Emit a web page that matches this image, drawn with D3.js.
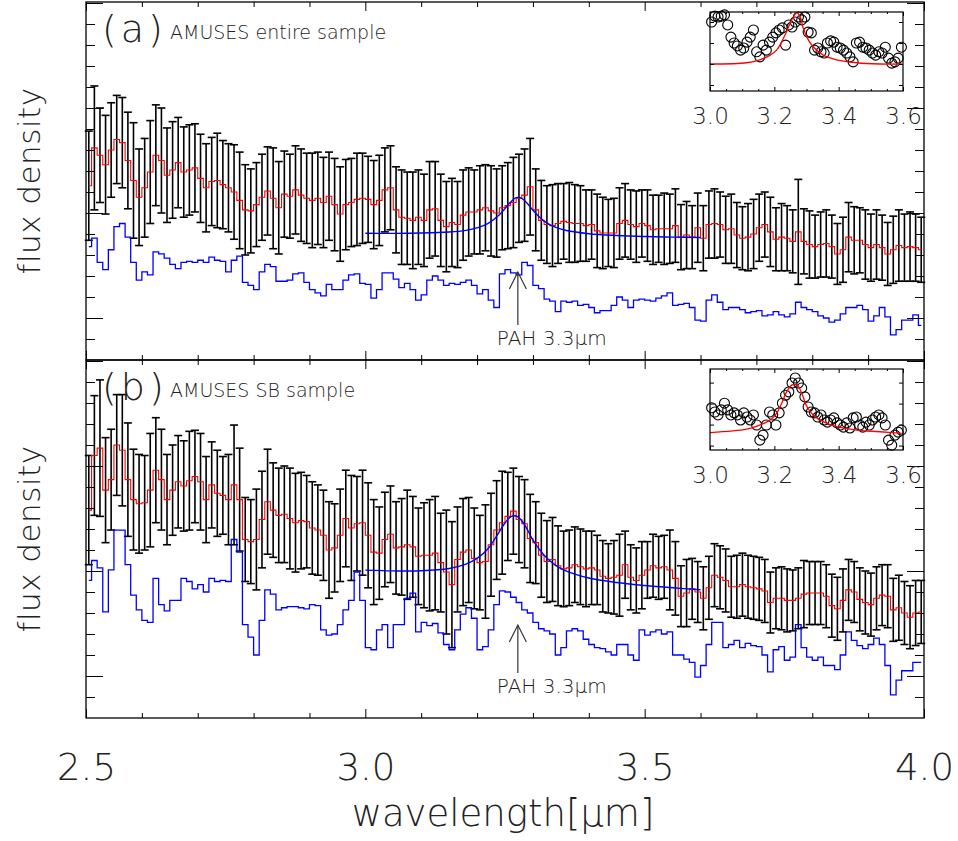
<!DOCTYPE html>
<html>
<head>
<meta charset="utf-8">
<script src="https://cdn.jsdelivr.net/npm/d3@7"></script>
<style>
  body { margin: 0; background: #fff; }
  svg { display: block; }
  text { font-family: "DejaVu Sans ExtraLight", "DejaVu Sans", sans-serif; font-weight: 200; fill: #222; }
</style>
</head>
<body>
<svg id="chart" width="958" height="841"></svg>
<script>
// wavelength grid of the stacked spectra (micron)
const wave = [
  2.505,2.515,2.525,2.535,2.545,2.555,2.565,2.575,2.585,2.595,
  2.605,2.615,2.625,2.635,2.645,2.655,2.665,2.675,2.685,2.695,
  2.705,2.715,2.725,2.735,2.745,2.755,2.765,2.775,2.785,2.795,
  2.805,2.815,2.825,2.835,2.845,2.855,2.865,2.875,2.885,2.895,
  2.905,2.915,2.925,2.935,2.945,2.955,2.965,2.975,2.985,2.995,
  3.005,3.015,3.025,3.035,3.045,3.055,3.065,3.075,3.085,3.095,
  3.105,3.115,3.125,3.135,3.145,3.155,3.165,3.175,3.185,3.195,
  3.205,3.215,3.225,3.235,3.245,3.255,3.265,3.275,3.285,3.295,
  3.305,3.315,3.325,3.335,3.345,3.355,3.365,3.375,3.385,3.395,
  3.405,3.415,3.425,3.435,3.445,3.455,3.465,3.475,3.485,3.495,
  3.505,3.515,3.525,3.535,3.545,3.555,3.565,3.575,3.585,3.595,
  3.605,3.615,3.625,3.635,3.645,3.655,3.665,3.675,3.685,3.695,
  3.705,3.715,3.725,3.735,3.745,3.755,3.765,3.775,3.785,3.795,
  3.805,3.815,3.825,3.835,3.845,3.855,3.865,3.875,3.885,3.895,
  3.905,3.915,3.925,3.935,3.945,3.955,3.965,3.975,3.985,3.995
];

// (a) entire sample: mean (red), error, template (blue)
const meanA = [
  22.6,26.2,25.5,24.6,26.0,27.0,26.7,25.0,23.1,21.5,
  22.4,23.9,25.5,25.0,23.6,24.1,24.8,23.9,24.1,24.3,
  23.3,22.4,23.0,23.1,22.7,22.4,22.0,21.2,20.3,20.2,
  20.8,21.5,22.1,21.4,20.5,21.8,21.6,22.2,21.7,21.4,
  21.2,21.4,21.0,21.6,20.8,19.9,20.8,21.0,21.3,21.4,
  21.3,20.8,21.2,22.2,22.4,20.3,19.6,19.5,19.3,19.6,
  19.3,20.3,20.4,19.3,18.7,19.1,18.9,19.8,20.1,20.1,
  20.3,20.5,20.2,20.0,20.5,20.7,21.0,21.4,21.7,22.5,
  20.3,19.3,18.9,18.8,19.0,19.2,19.1,19.0,19.0,18.8,
  18.9,18.3,18.1,18.1,18.1,19.0,19.3,18.9,18.7,19.0,
  18.8,18.4,18.5,18.5,18.5,18.8,17.7,17.9,17.7,18.6,
  17.6,18.9,19.0,18.9,18.4,18.5,17.9,17.6,17.7,18.0,
  18.6,18.9,18.2,17.5,17.7,17.6,17.3,18.2,17.3,17.0,
  16.8,17.0,17.1,16.8,16.1,16.5,17.7,17.4,17.4,17.0,
  16.7,17.0,16.7,16.1,16.5,16.9,16.7,16.8,16.7,16.5
];
const errA = [
  5.2,5.9,4.5,4.7,4.5,4.2,4.3,4.6,5.5,4.6,
  4.7,4.9,4.8,5.0,4.5,4.6,4.3,4.3,4.3,4.2,
  4.2,4.2,4.2,4.5,4.2,4.2,4.5,4.6,4.3,4.0,
  4.0,4.1,4.2,4.8,4.4,4.1,4.0,4.2,4.4,4.3,
  4.5,4.4,4.3,4.2,4.4,4.5,4.3,4.2,4.4,4.3,
  4.1,4.2,4.3,4.0,4.0,4.1,4.5,4.4,4.6,4.5,
  4.4,4.6,4.5,4.4,4.3,4.2,4.1,4.3,4.2,4.0,
  4.2,4.1,4.3,4.2,4.0,4.1,4.3,4.2,4.4,4.6,
  3.9,3.8,3.7,3.9,3.8,3.6,3.8,3.7,3.6,3.4,
  3.3,3.5,3.4,3.2,3.3,3.4,3.5,3.3,3.4,3.2,
  3.4,3.3,3.2,3.4,3.3,3.5,3.1,3.2,3.0,3.3,
  3.1,3.2,3.3,3.1,3.2,3.3,3.1,3.0,3.2,3.3,
  3.2,3.1,3.3,3.0,3.2,3.1,3.0,5.0,3.1,3.2,
  3.0,3.1,3.2,3.0,2.9,3.1,3.3,3.2,3.1,3.3,
  3.2,3.3,3.1,3.0,3.2,3.4,3.2,3.3,3.2,3.1
];
const blueA = [
  16.8,17.6,15.3,14.6,16.5,18.7,19.0,17.7,15.3,13.6,
  14.4,14.1,16.3,16.1,15.7,15.1,14.7,15.3,15.4,15.3,
  15.5,15.3,15.8,15.5,15.4,14.4,15.5,15.9,13.4,13.1,
  12.7,14.4,15.1,14.9,13.5,13.5,13.6,14.2,14.3,13.4,
  12.7,12.4,12.1,13.2,12.7,12.7,13.6,14.1,14.2,13.3,
  13.2,11.9,12.7,14.3,14.3,13.7,12.9,13.3,12.7,11.7,
  12.2,13.6,14.0,13.6,13.1,13.3,13.2,13.4,13.6,13.1,
  12.3,12.7,11.7,11.0,14.2,14.6,14.3,14.1,15.3,15.0,
  13.1,12.8,11.8,11.6,10.6,11.6,11.5,11.6,11.2,11.3,
  11.0,10.5,10.7,10.7,11.2,12.0,11.7,11.0,11.7,11.8,
  11.7,11.6,11.9,12.1,12.4,11.2,11.3,11.4,11.0,9.8,
  9.7,11.7,12.2,11.5,10.8,11.0,11.0,10.8,10.5,10.6,
  10.7,10.2,10.3,10.6,10.3,10.1,10.4,11.5,11.0,10.8,
  10.6,10.2,10.0,9.6,9.8,10.4,11.0,11.0,11.2,10.8,
  9.7,10.2,11.0,10.1,8.4,8.9,9.8,9.8,10.3,9.3
];

// (b) SB sample
const meanB = [
  25.8,31.0,31.7,27.7,28.7,32.0,31.5,28.7,26.8,26.4,
  26.5,27.7,29.6,28.7,26.8,27.7,28.5,28.1,28.6,29.0,
  28.5,26.8,28.2,27.4,27.2,26.8,28.2,26.8,23.0,22.8,
  23.0,24.9,26.6,25.8,25.3,25.4,25.0,24.6,24.8,24.7,
  24.1,23.9,23.4,22.0,22.2,23.4,25.0,24.1,24.5,24.6,
  23.4,21.8,21.7,23.0,23.5,22.2,22.3,22.5,22.3,21.4,
  21.5,21.5,21.7,20.8,19.9,18.7,21.1,21.8,22.0,21.2,
  20.8,20.9,22.5,23.9,24.6,25.2,25.7,24.9,24.5,23.1,
  22.7,21.5,20.9,21.1,20.5,20.2,20.3,20.6,20.4,20.2,
  20.3,20.1,19.5,19.3,19.4,19.6,20.6,19.4,19.1,19.6,
  20.1,20.5,20.3,20.4,20.1,19.3,17.6,17.9,18.3,18.0,
  17.4,18.4,19.6,19.4,19.1,18.5,18.5,18.7,18.5,18.4,
  18.3,18.1,17.0,17.4,17.4,17.2,17.2,17.4,17.8,17.9,
  17.9,17.9,17.6,16.7,16.4,17.2,18.2,18.0,17.3,17.0,
  16.8,17.4,17.7,17.6,16.3,16.5,16.0,15.6,16.0,16.1
];
const errB = [
  5.2,5.7,6.5,5.0,4.8,4.8,5.3,5.4,4.8,4.7,
  4.5,5.4,5.0,4.8,4.3,4.3,4.4,4.3,4.7,4.4,
  4.6,4.1,4.1,4.1,3.7,4.3,5.7,4.9,4.0,4.0,
  4.8,4.6,5.0,4.5,4.5,4.6,4.8,4.7,4.6,4.4,
  4.4,4.3,4.3,4.6,4.2,4.4,4.6,5.0,4.5,5.0,
  5.0,5.0,4.4,4.5,4.6,4.4,4.6,5.2,4.8,4.6,
  5.0,5.3,5.4,4.7,5.9,6.0,5.0,5.1,5.0,4.8,
  4.5,5.4,4.9,4.7,4.9,4.2,4.1,4.1,4.2,4.2,
  3.9,4.0,3.9,4.0,3.8,3.6,3.6,3.6,3.6,3.6,
  3.5,3.3,3.4,3.3,3.5,3.9,3.2,3.1,3.1,3.2,
  2.7,3.0,3.0,3.0,3.8,3.5,2.9,3.2,2.9,2.9,
  3.0,3.0,3.0,3.0,3.0,2.9,3.0,3.0,3.0,3.0,
  3.0,3.0,2.9,2.9,3.0,3.0,2.9,2.9,3.2,3.0,
  3.0,3.0,3.0,3.0,3.0,3.0,2.9,2.9,3.0,3.0,
  3.0,3.0,2.9,3.0,3.0,3.1,3.0,3.0,3.1,3.0
];
const blueB = [
  19.1,21.0,20.3,16.1,20.1,23.9,23.9,20.6,17.7,16.3,
  15.3,15.1,19.3,16.8,16.2,17.2,17.2,19.3,19.0,18.3,
  18.7,18.0,19.3,19.0,19.1,19.0,23.0,21.8,14.9,13.7,
  12.0,15.3,18.2,17.8,16.3,16.5,16.6,16.6,16.5,16.4,
  16.8,16.7,14.4,13.9,14.0,14.9,16.3,17.2,19.9,17.2,
  12.7,12.5,14.4,14.9,12.7,14.9,14.9,17.4,17.9,14.2,
  15.1,14.8,15.0,14.1,13.0,12.5,14.4,15.9,16.5,15.5,
  12.5,12.8,14.4,16.8,18.1,18.0,17.5,17.0,16.3,16.0,
  15.1,14.5,14.3,14.0,12.0,12.7,14.3,14.5,14.3,13.5,
  13.0,12.7,12.6,12.3,12.0,13.0,13.0,12.0,11.5,14.4,
  13.9,14.2,14.4,14.0,14.2,12.0,12.0,11.6,11.3,9.9,
  11.0,13.0,15.1,15.1,12.7,13.0,13.4,12.7,13.1,12.9,
  12.8,12.0,10.4,12.5,12.8,11.5,11.8,14.9,12.7,11.8,
  11.5,11.8,11.0,11.0,10.6,12.0,14.2,13.4,12.9,12.6,
  13.0,13.6,13.0,11.0,8.2,9.6,10.5,10.5,11.3,11.3
];

// Lorentzian PAH fits
const fitWave = [3.00,3.05,3.10,3.15,3.18,3.20,3.22,3.24,3.25,3.26,3.27,
                 3.28,3.29,3.30,3.32,3.34,3.36,3.40,3.45,3.50,3.55,3.60];
const fitA = [18.07,18.06,18.09,18.19,18.35,18.58,19.02,19.83,20.42,21.05,21.46,
              21.40,20.91,20.26,19.22,18.65,18.33,18.03,17.86,17.76,17.70,17.67];
const fitB = [20.08,20.01,20.02,20.24,20.66,21.20,22.15,23.76,24.57,25.16,25.24,
              24.79,23.95,22.93,21.50,20.56,19.98,19.33,18.90,18.62,18.40,18.21];

// insets: continuum-normalised points around 3.3 micron
const insetWave = [
  3.005,3.015,3.025,3.035,3.045,3.055,3.065,3.075,3.085,3.095,
  3.105,3.115,3.125,3.135,3.145,3.155,3.165,3.175,3.185,3.195,
  3.205,3.215,3.225,3.235,3.245,3.255,3.265,3.275,3.285,3.295,
  3.305,3.315,3.325,3.335,3.345,3.355,3.365,3.375,3.385,3.395,
  3.405,3.415,3.425,3.435,3.445,3.455,3.465,3.475,3.485,3.495,
  3.505,3.515,3.525,3.535,3.545,3.555,3.565,3.575,3.585,3.595
];
const insetA = [
  2.00,2.14,2.12,2.14,2.17,1.93,1.64,1.50,1.43,1.33,
  1.38,1.52,1.64,1.81,1.29,1.17,1.45,1.33,1.52,1.64,
  1.74,1.81,1.86,1.45,1.93,1.88,2.00,2.12,2.05,2.12,
  1.76,1.74,1.33,1.38,1.29,1.26,1.50,1.55,1.52,1.40,
  1.38,1.33,1.26,1.17,1.05,1.50,1.52,1.40,1.38,1.33,
  1.26,1.21,1.29,1.26,1.40,1.14,1.02,1.05,1.14,1.40
];
const insetB = [
  1.40,1.30,1.23,1.35,1.51,1.35,1.23,1.28,1.23,1.11,
  1.28,1.18,1.11,1.23,0.99,0.63,0.75,0.99,1.30,1.23,
  0.99,1.28,1.51,1.70,1.78,1.99,2.11,1.99,1.87,1.66,
  1.42,1.30,1.28,1.18,1.23,1.11,1.06,1.11,1.16,1.04,
  0.99,0.94,1.04,0.92,1.16,1.18,0.99,0.94,1.06,0.99,
  1.11,1.18,1.23,1.16,0.99,0.63,0.51,0.75,0.82,0.87
];
const insetFitWaveA = [3.000,3.114,3.155,3.187,3.207,3.223,3.238,3.254,3.270,3.280,
                       3.290,3.306,3.321,3.352,3.394,3.456,3.528,3.596];
const insetFitA = [1.00,1.03,1.10,1.21,1.33,1.53,1.77,2.05,2.22,2.13,
                   1.85,1.57,1.41,1.21,1.10,1.03,1.00,1.00];
const insetFitWaveB = [3.000,3.114,3.155,3.187,3.207,3.223,3.238,3.254,3.264,3.272,
                       3.285,3.301,3.321,3.352,3.394,3.456,3.528,3.596];
const insetFitB = [0.81,0.89,0.99,1.11,1.27,1.51,1.78,1.94,1.96,1.94,
                   1.75,1.43,1.23,1.07,0.95,0.87,0.83,0.79];

// ticks
const xMajor = [2.5, 3.0, 3.5, 4.0];
const xMinor = [2.6, 2.7, 2.8, 2.9, 3.1, 3.2, 3.3, 3.4, 3.6, 3.7, 3.8, 3.9];
const yMajor = [10, 20, 30, 40];
const yMinor = [8, 12, 14, 16, 18, 22, 24, 26, 28, 32, 34, 36, 38];
const insetXMajor = [3.0, 3.2, 3.4, 3.6];
const insetXMinor = [3.05, 3.1, 3.15, 3.25, 3.3, 3.35, 3.45, 3.5, 3.55];
const insetYMajor = [0.5, 1.0, 1.5, 2.0];

const svg = d3.select('#chart');
const W = { left: 86, right: 924 };
const x = d3.scaleLinear().domain([2.5, 4.0]).range([W.left, W.right]);

const panels = [
  { top: 2, bottom: 360, mean: meanA, err: errA, spec: blueA, fit: fitA,
    tag: '(a)', title: 'AMUSES entire sample', pahTip: 272, pahEnd: 325, pahText: 345,
    inset: { top: 12, bottom: 91, dom: [0.357, 2.238], pts: insetA, fw: insetFitWaveA, fv: insetFitA } },
  { top: 360, bottom: 718, mean: meanB, err: errB, spec: blueB, fit: fitB,
    tag: '(b)', title: 'AMUSES SB sample', pahTip: 625, pahEnd: 673, pahText: 693,
    inset: { top: 369, bottom: 450, dom: [0.395, 2.324], pts: insetB, fw: insetFitWaveB, fv: insetFitB } }
];

function styleAxis(g, fontSize) {
  g.select('.domain').remove();
  g.selectAll('.tick line').attr('stroke', '#000').attr('stroke-width', 1);
  g.selectAll('text').attr('font-size', fontSize).attr('font-family', null).attr('fill', '#222');
}

panels.forEach((p, k) => {
  const y = d3.scaleLinear().domain([6, 40.095]).range([p.bottom, p.top]);
  const g = svg.append('g').attr('class', 'panel');
  const pts = wave.map((w, i) => ({ w, m: p.mean[i], e: p.err[i], s: p.spec[i] }));

  // error bars
  const bars = g.append('g').attr('stroke', '#000').attr('stroke-width', 1.6);
  bars.selectAll('line.bar').data(pts).join('line')
      .attr('x1', d => x(d.w)).attr('x2', d => x(d.w))
      .attr('y1', d => y(d.m + d.e)).attr('y2', d => y(d.m - d.e));
  bars.selectAll('line.capHi').data(pts).join('line')
      .attr('x1', d => x(d.w) - 4).attr('x2', d => x(d.w) + 4)
      .attr('y1', d => y(d.m + d.e)).attr('y2', d => y(d.m + d.e));
  bars.selectAll('line.capLo').data(pts).join('line')
      .attr('x1', d => x(d.w) - 4).attr('x2', d => x(d.w) + 4)
      .attr('y1', d => y(d.m - d.e)).attr('y2', d => y(d.m - d.e));

  // mean spectrum (histogram style)
  g.append('path').datum(pts)
      .attr('fill', 'none').attr('stroke', '#ff0000').attr('stroke-width', 1.1)
      .attr('d', d3.line().curve(d3.curveStep).x(d => x(d.w)).y(d => y(d.m)));

  // Lorentzian fit
  g.append('path').datum(fitWave.map((w, i) => [w, p.fit[i]]))
      .attr('fill', 'none').attr('stroke', '#0000ff').attr('stroke-width', 1.4)
      .attr('d', d3.line().curve(d3.curveCatmullRom).x(d => x(d[0])).y(d => y(d[1])));

  // comparison spectrum (blue, lower)
  g.append('path').datum(pts)
      .attr('fill', 'none').attr('stroke', '#0000ff').attr('stroke-width', 1.3)
      .attr('d', d3.line().curve(d3.curveStep).x(d => x(d.w)).y(d => y(d.s)));

  // axes, ticks pointing inward
  const last = k === panels.length - 1;
  const axB = g.append('g').attr('transform', `translate(0,${p.bottom})`)
      .call(d3.axisBottom(x).tickValues(xMajor).tickSize(-9).tickPadding(36)
            .tickFormat(last ? d3.format('.1f') : () => ''));
  styleAxis(axB, 37);
  const axBm = g.append('g').attr('transform', `translate(0,${p.bottom})`)
      .call(d3.axisBottom(x).tickValues(xMinor).tickSize(-5).tickFormat(() => ''));
  styleAxis(axBm, 10);
  [[xMajor, -9], [xMinor, -5]].forEach(([tv, ts]) => {
    const a = g.append('g').attr('transform', `translate(0,${p.top})`)
        .call(d3.axisTop(x).tickValues(tv).tickSize(ts).tickFormat(() => ''));
    styleAxis(a, 10);
  });
  [[yMajor, -17], [yMinor, -9]].forEach(([tv, ts]) => {
    const l = g.append('g').attr('transform', `translate(${W.left},0)`)
        .call(d3.axisLeft(y).tickValues(tv).tickSize(ts).tickFormat(() => ''));
    styleAxis(l, 10);
    const r = g.append('g').attr('transform', `translate(${W.right},0)`)
        .call(d3.axisRight(y).tickValues(tv).tickSize(ts).tickFormat(() => ''));
    styleAxis(r, 10);
  });

  // frame
  g.append('rect')
      .attr('x', W.left).attr('y', p.top)
      .attr('width', W.right - W.left).attr('height', p.bottom - p.top)
      .attr('fill', 'none').attr('stroke', '#000').attr('stroke-width', 1.3);

  // y label
  g.append('text')
      .attr('transform', `translate(40,${(p.top + p.bottom) / 2}) rotate(-90)`)
      .attr('text-anchor', 'middle').attr('font-size', 31).attr('letter-spacing', 0.5)
      .text('flux density');

  // panel tag and title
  g.append('text').attr('x', 102).attr('y', p.top + 40)
      .attr('font-size', 38).attr('letter-spacing', 4).text(p.tag);
  g.append('text').attr('x', 170).attr('y', p.top + 37)
      .attr('font-size', 19).text(p.title);

  // PAH arrow
  const ax = x(3.273);
  const arrow = g.append('g').attr('stroke', '#333').attr('stroke-width', 1.2).attr('fill', 'none');
  arrow.append('line').attr('x1', ax).attr('x2', ax).attr('y1', p.pahTip).attr('y2', p.pahEnd);
  arrow.append('path').attr('d', `M${ax - 8.5},${p.pahTip + 17}L${ax},${p.pahTip}L${ax + 8.5},${p.pahTip + 17}`);
  g.append('text').attr('x', ax - 21).attr('y', p.pahText).attr('font-size', 20)
      .text('PAH  3.3\u03bcm');

  // inset
  const ins = p.inset;
  const ix = d3.scaleLinear().domain([3.0, 3.6]).range([710, 903]);
  const iy = d3.scaleLinear().domain(ins.dom).range([ins.bottom, ins.top]);
  const ig = g.append('g').attr('class', 'inset');
  ig.append('rect').attr('x', 710).attr('y', ins.top)
      .attr('width', 193).attr('height', ins.bottom - ins.top).attr('fill', '#fff');
  ig.append('g').selectAll('circle').data(insetWave.map((w, i) => [w, ins.pts[i]])).join('circle')
      .attr('cx', d => ix(d[0])).attr('cy', d => iy(d[1])).attr('r', 5)
      .attr('fill', 'none').attr('stroke', '#000').attr('stroke-width', 1.1);
  ig.append('path').datum(ins.fw.map((w, i) => [w, ins.fv[i]]))
      .attr('fill', 'none').attr('stroke', '#ff0000').attr('stroke-width', 1.3)
      .attr('d', d3.line().curve(d3.curveCatmullRom).x(d => ix(d[0])).y(d => iy(d[1])));
  const ib = ig.append('g').attr('transform', `translate(0,${ins.bottom})`)
      .call(d3.axisBottom(ix).tickValues(insetXMajor).tickSize(-4).tickPadding(17)
            .tickFormat(d3.format('.1f')));
  styleAxis(ib, 23);
  const ibm = ig.append('g').attr('transform', `translate(0,${ins.bottom})`)
      .call(d3.axisBottom(ix).tickValues(insetXMinor).tickSize(-2).tickFormat(() => ''));
  styleAxis(ibm, 10);
  [[insetXMajor, -4], [insetXMinor, -2]].forEach(([tv, ts]) => {
    const a = ig.append('g').attr('transform', `translate(0,${ins.top})`)
        .call(d3.axisTop(ix).tickValues(tv).tickSize(ts).tickFormat(() => ''));
    styleAxis(a, 10);
  });
  const il = ig.append('g').attr('transform', 'translate(710,0)')
      .call(d3.axisLeft(iy).tickValues(insetYMajor).tickSize(-4).tickFormat(() => ''));
  styleAxis(il, 10);
  const ir = ig.append('g').attr('transform', 'translate(903,0)')
      .call(d3.axisRight(iy).tickValues(insetYMajor).tickSize(-4).tickFormat(() => ''));
  styleAxis(ir, 10);
  ig.append('rect').attr('x', 710).attr('y', ins.top)
      .attr('width', 193).attr('height', ins.bottom - ins.top)
      .attr('fill', 'none').attr('stroke', '#000').attr('stroke-width', 1.2);
});

// x axis title
svg.append('text').attr('x', 503).attr('y', 826)
    .attr('text-anchor', 'middle').attr('font-size', 37)
    .text('wavelength[\u03bcm]');
</script>
</body>
</html>
